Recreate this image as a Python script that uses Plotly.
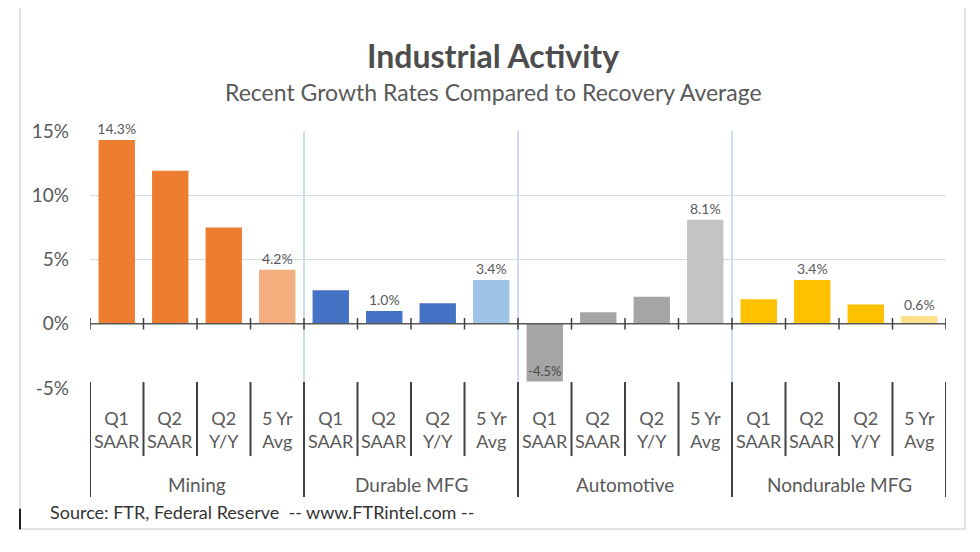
import plotly.graph_objects as go

# ---- data ----
groups = ["Mining", "Durable MFG", "Automotive", "Nondurable MFG"]
sub_labels = ["Q1<br>SAAR", "Q2<br>SAAR", "Q2<br>Y/Y", "5 Yr<br>Avg"]

mining_vals = [14.3, 11.9, 7.5, 4.2]
durable_vals = [2.6, 1.0, 1.6, 3.4]
auto_vals = [-4.5, 0.9, 2.1, 8.1]
nondurable_vals = [1.9, 3.4, 1.5, 0.6]

mining_text = ["14.3%", "", "", "4.2%"]
durable_text = ["", "1.0%", "", "3.4%"]
auto_text = ["-4.5%", "", "", "8.1%"]
nondurable_text = ["", "3.4%", "", "0.6%"]

y_ticks = [-5, 0, 5, 10, 15]
y_tick_labels = ["-5%", "0%", "5%", "10%", "15%"]

# ---- styles ----
group_colors = {
    "Mining": ("#ED7D31", "#F4AE7E"),
    "Durable MFG": ("#4472C4", "#9DC3E6"),
    "Automotive": ("#A5A5A5", "#C4C4C4"),
    "Nondurable MFG": ("#FFC000", "#FFE08A"),
}

all_vals = [mining_vals, durable_vals, auto_vals, nondurable_vals]
all_text = [mining_text, durable_text, auto_text, nondurable_text]

x_ids, y_vals, colors, texts, textpos = [], [], [], [], []
for g, vals, txts in zip(groups, all_vals, all_text):
    base, light = group_colors[g]
    for i, (s, v, t) in enumerate(zip(sub_labels, vals, txts)):
        x_ids.append(f"{g}|{s}")
        y_vals.append(v)
        colors.append(light if i == 3 else base)
        texts.append(t)
        textpos.append("inside" if v < 0 else "outside")

FONT = "Lato"
GRAY = "#595959"

fig = go.Figure()
fig.add_trace(go.Bar(
    x=x_ids, y=y_vals,
    marker=dict(color=colors, line=dict(width=0)),
    width=0.68,
    text=texts, textposition=textpos,
    insidetextanchor="end",
    textangle=0,
    constraintext="none",
    textfont=dict(family=FONT, size=14, color=GRAY),
    insidetextfont=dict(family=FONT, size=13, color="#4A4A4A"),
    outsidetextfont=dict(family=FONT, size=14, color=GRAY),
    cliponaxis=False,
    hoverinfo="skip",
))

n = len(x_ids)
shapes = []
# blue group separators in plot
for k in range(1, len(groups)):
    b = k * 4 - 0.5
    shapes.append(dict(type="line", xref="x", yref="y", x0=b, x1=b, y0=-5, y1=15,
                       line=dict(color="#9CB6E4", width=1), layer="below"))
# zero line
shapes.append(dict(type="line", xref="x", yref="y", x0=-0.5, x1=n - 0.5, y0=0, y1=0,
                   line=dict(color=GRAY, width=1.5)))
# ticks on zero line & dividers below axis
for j in range(n + 1):
    b = j - 0.5
    shapes.append(dict(type="line", xref="x", yref="y", x0=b, x1=b, y0=-0.45, y1=0.45,
                       line=dict(color="#404040", width=1.5)))
    is_group = (j % 4 == 0)
    shapes.append(dict(type="line", xref="x", yref="paper", x0=b, x1=b,
                       y0=0.023, y1=(-0.424 if is_group else -0.265),
                       line=dict(color="#404040", width=2)))
# chart border
shapes.append(dict(type="rect", xref="paper", yref="paper", x0=-0.0818, x1=1.0222,
                   y0=-0.5486, y1=1.52, line=dict(color="#D9D9D9", width=1.5)))
shapes.append(dict(type="line", xref="paper", yref="paper", x0=-0.0818, x1=-0.0818,
                   y0=-0.47, y1=-0.55, line=dict(color="#202020", width=2)))

annotations = []
for g_i, g in enumerate(groups):
    for s_i, s in enumerate(sub_labels):
        annotations.append(dict(x=f"{g}|{s}", xref="x", yref="paper", y=-0.163,
                                text=s, showarrow=False, yanchor="middle",
                                font=dict(family=FONT, size=18, color=GRAY)))
    annotations.append(dict(x=g_i * 4 + 1.5, xref="x", yref="paper", y=-0.377,
                            text=g, showarrow=False, yanchor="middle",
                            font=dict(family=FONT, size=19, color=GRAY)))
annotations.append(dict(x=0.4708, y=1.2957, xref="paper", yref="paper",
                        xanchor="center", yanchor="middle",
                        text="<b>Industrial Activity</b>", showarrow=False,
                        font=dict(family=FONT, size=32, color="#4D4D4D")))
annotations.append(dict(x=0.4708, y=1.1517, xref="paper", yref="paper",
                        xanchor="center", yanchor="middle",
                        text="Recent Growth Rates Compared to Recovery Average",
                        showarrow=False, font=dict(family=FONT, size=23, color=GRAY)))
annotations.append(dict(x=-0.049, y=-0.4825, xref="paper", yref="paper",
                        xanchor="left", yanchor="middle",
                        text="Source: FTR, Federal Reserve  -- www.FTRintel.com --",
                        showarrow=False, font=dict(family=FONT, size=18, color="#333333")))

fig.update_layout(
    width=972, height=544, autosize=False,
    margin=dict(l=82, r=34, t=123, b=164),
    paper_bgcolor="white", plot_bgcolor="white",
    showlegend=False,
    xaxis=dict(type="category", showticklabels=False, showgrid=False, zeroline=False,
               showline=False, ticks="", range=[-0.5, n - 0.5]),
    yaxis=dict(range=[-5, 15], tickvals=y_ticks, ticktext=y_tick_labels,
               showgrid=True, gridcolor="#D9D9D9", gridwidth=1, zeroline=False,
               showline=False, ticks="", ticklabelstandoff=20,
               tickfont=dict(family=FONT, size=19, color=GRAY)),
    shapes=shapes, annotations=annotations,
)

fig.write_html("out.html")
